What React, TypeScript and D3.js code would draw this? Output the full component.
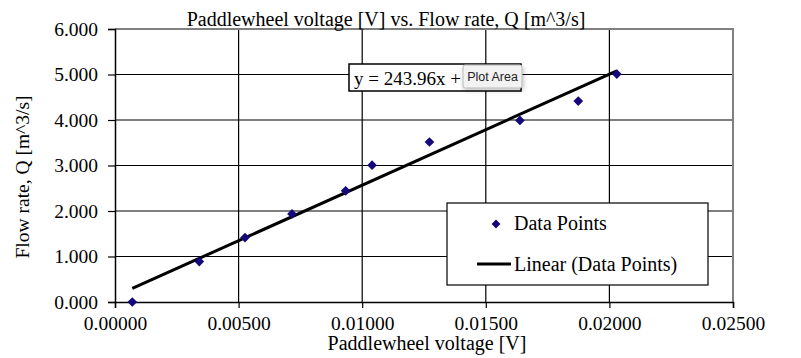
import React, { useRef, useEffect } from 'react';
import * as d3 from 'd3';

const voltage = [0.0007, 0.00341, 0.00526, 0.00716, 0.00933, 0.0104, 0.01272, 0.01638, 0.01874, 0.0203];
const flowRate = [0.0, 0.889, 1.417, 1.936, 2.443, 3.008, 3.516, 3.99, 4.416, 5.01];
const xTicks = [0, 0.005, 0.01, 0.015, 0.02, 0.025];
const yTicks = [0, 1, 2, 3, 4, 5, 6];
const trendSlope = 243.96;
const trendIntercept = 0.128;

const serif = '"Times New Roman", "Liberation Serif", serif';

const App: React.FC = () => {
  const svgRef = useRef<SVGSVGElement | null>(null);

  useEffect(() => {
    const width = 801;
    const height = 358;
    const svg = d3.select(svgRef.current)
      .attr('width', width)
      .attr('height', height)
      .style('background', '#fff');

    const margin = { top: 29, right: 68, bottom: 56, left: 115 };
    const x = d3.scaleLinear().domain([0, 0.025]).range([margin.left, width - margin.right]);
    const y = d3.scaleLinear().domain([0, 6]).range([height - margin.bottom, margin.top]);

    // gridlines
    svg.append('g')
      .selectAll('line.h')
      .data(yTicks.slice(1, -1))
      .enter()
      .append('line')
      .attr('x1', x(0)).attr('x2', x(0.025))
      .attr('y1', d => y(d)).attr('y2', d => y(d))
      .attr('stroke', '#000').attr('stroke-width', 1.2);
    svg.append('g')
      .selectAll('line.v')
      .data(xTicks.slice(1, -1))
      .enter()
      .append('line')
      .attr('x1', d => x(d)).attr('x2', d => x(d))
      .attr('y1', y(0)).attr('y2', y(6))
      .attr('stroke', '#000').attr('stroke-width', 1.2);

    // plot area border (top/right grey)
    svg.append('path')
      .attr('d', `M${x(0)},${y(6)}H${x(0.025)}V${y(0)}`)
      .attr('fill', 'none')
      .attr('stroke', '#808080')
      .attr('stroke-width', 2);

    // axes
    const yAxis = svg.append('g')
      .attr('transform', `translate(${x(0)},0)`)
      .call(d3.axisLeft(y).tickValues(yTicks).tickSize(7).tickPadding(10).tickFormat(d3.format('.3f')));
    const xAxis = svg.append('g')
      .attr('transform', `translate(0,${y(0)})`)
      .call(d3.axisBottom(x).tickValues(xTicks).tickSize(6).tickPadding(8).tickFormat(d3.format('.5f')));
    [yAxis, xAxis].forEach(a => {
      a.select('.domain').attr('stroke', '#000').attr('stroke-width', 1.5);
      a.selectAll('.tick line').attr('stroke', '#000').attr('stroke-width', 1.2);
      a.selectAll('.tick text')
        .attr('fill', '#000')
        .style('font-family', serif)
        .style('font-size', '19.5px');
    });

    // trendline
    const x0 = d3.min(voltage)!;
    const x1 = d3.max(voltage)!;
    svg.append('line')
      .attr('x1', x(x0)).attr('y1', y(trendSlope * x0 + trendIntercept))
      .attr('x2', x(x1)).attr('y2', y(trendSlope * x1 + trendIntercept))
      .attr('stroke', '#000').attr('stroke-width', 3);

    // data points
    const diamond = d3.symbol().type(d3.symbolDiamond2).size(60);
    svg.append('g')
      .selectAll('path')
      .data(voltage.map((v, i) => [v, flowRate[i]]))
      .enter()
      .append('path')
      .attr('d', diamond)
      .attr('transform', d => `translate(${x(d[0])},${y(d[1])})`)
      .attr('fill', '#14087a');

    // title and axis labels
    svg.append('text')
      .attr('x', 386).attr('y', 26)
      .attr('text-anchor', 'middle')
      .style('font-family', serif).style('font-size', '20px')
      .text('Paddlewheel voltage [V] vs. Flow rate, Q [m^3/s]');
    svg.append('text')
      .attr('x', 427).attr('y', 350)
      .attr('text-anchor', 'middle')
      .style('font-family', serif).style('font-size', '20px')
      .text('Paddlewheel voltage [V]');
    svg.append('text')
      .attr('transform', 'translate(29,177) rotate(-90)')
      .attr('text-anchor', 'middle')
      .style('font-family', serif).style('font-size', '19.5px')
      .text('Flow rate, Q [m^3/s]');

    // equation label (partly hidden under the hover tip)
    svg.append('rect')
      .attr('x', 349).attr('y', 64).attr('width', 172).attr('height', 27)
      .attr('fill', '#fff').attr('stroke', '#000').attr('stroke-width', 1.5);
    svg.append('text')
      .attr('x', 354).attr('y', 85)
      .style('font-family', serif).style('font-size', '19px')
      .text('y = 243.96x +');

    // legend
    const legend = svg.append('g');
    legend.append('rect')
      .attr('x', 447).attr('y', 203).attr('width', 261).attr('height', 82)
      .attr('fill', '#fff').attr('stroke', '#000').attr('stroke-width', 1.2);
    legend.append('path')
      .attr('d', d3.symbol().type(d3.symbolDiamond2).size(50)())
      .attr('transform', 'translate(496,224)')
      .attr('fill', '#14087a');
    legend.append('text')
      .attr('x', 514).attr('y', 230)
      .style('font-family', serif).style('font-size', '20px')
      .text('Data Points');
    legend.append('line')
      .attr('x1', 477).attr('x2', 511).attr('y1', 264).attr('y2', 264)
      .attr('stroke', '#000').attr('stroke-width', 3);
    legend.append('text')
      .attr('x', 514).attr('y', 271)
      .style('font-family', serif).style('font-size', '20px')
      .text('Linear (Data Points)');

    // "Plot Area" hover tip
    const defs = svg.append('defs');
    const f = defs.append('filter').attr('id', 'tipShadow').attr('x', '-20%').attr('y', '-30%').attr('width', '150%').attr('height', '180%');
    f.append('feDropShadow').attr('dx', 1).attr('dy', 2).attr('stdDeviation', 2).attr('flood-opacity', 0.25);
    svg.append('rect')
      .attr('x', 463).attr('y', 65).attr('width', 59).attr('height', 23).attr('rx', 2)
      .attr('fill', '#f2f2f2').attr('stroke', '#b8b8b8').attr('stroke-width', 1)
      .attr('filter', 'url(#tipShadow)');
    svg.append('text')
      .attr('x', 492.5).attr('y', 81)
      .attr('text-anchor', 'middle')
      .style('font-family', '"Liberation Sans", Arial, sans-serif').style('font-size', '12.5px')
      .attr('fill', '#222')
      .text('Plot Area');

    return () => {
      svg.selectAll('*').remove();
    };
  }, []);

  return (
    <div style={{ position: 'absolute', left: 0, top: 0 }}>
      <svg ref={svgRef} style={{ display: 'block' }}></svg>
    </div>
  );
};

export default App;
